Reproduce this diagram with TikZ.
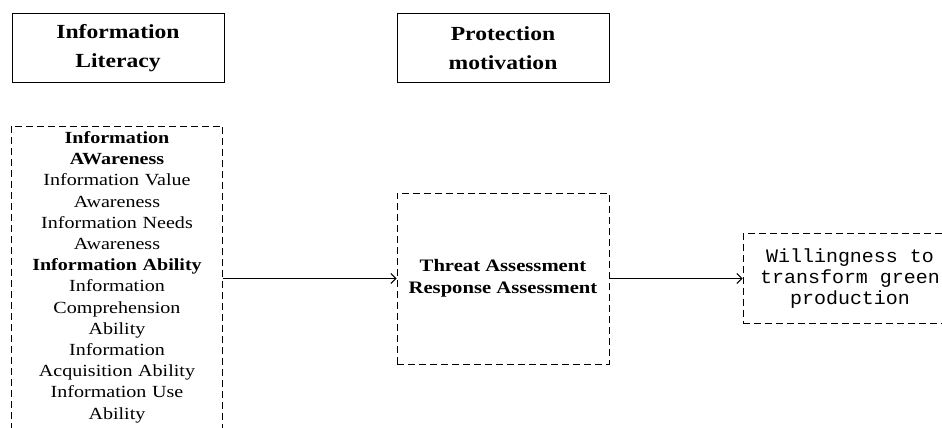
\documentclass[tikz,border=0pt]{standalone}
\usepackage{fontspec}
\setmainfont{Liberation Serif}[FakeStretch=1.18]
\newfontfamily\willfont{Liberation Mono}[FakeStretch=1.05]
\usetikzlibrary{arrows.meta}
\usetikzlibrary{positioning}

\begin{document}
\begin{tikzpicture}[x=1pt,y=-1pt,>={Straight Barb[length=5pt,width=10pt]},line width=1pt,node distance=1cm]
 \tikzstyle{head node}=[rectangle,draw,minimum width=212pt,minimum height=68pt,align=center,font=\fontsize{20}{29}\selectfont\bfseries]
 \tikzstyle{dash box}=[dash pattern=on 7pt off 4pt]
 \tikzset{
 	list node/.style={rectangle,inner xsep=2pt,inner ysep=5pt,text width=206pt,align=center,font=\fontsize{17}{21.2}\selectfont},
 	mid node/.style={rectangle,draw,dash box,minimum width=212pt,minimum height=171pt,align=center,font=\fontsize{17.5}{22}\selectfont\bfseries},
 	will node/.style={rectangle,draw,dash box,minimum width=214pt,minimum height=90pt,align=center,font=\willfont\fontsize{19}{21}\selectfont}
 }
 \useasboundingbox (0,0) rectangle (942,428);
 \clip (0,0) rectangle (942,428);

       \node[head node] (lit) at (118,48) {Information\\Literacy};
       \node[head node] (prot) [right=172pt of lit] {Protection\\motivation};

       \node[list node,anchor=north] (dims) at (117,126) {\textbf{Information}\\\textbf{AWareness}\\Information Value\\Awareness\\Information Needs\\Awareness\\\textbf{Information Ability}\\Information\\Comprehension\\Ability\\Information\\Acquisition Ability\\Information Use\\Ability};
       \draw[dash box] (dims.north west) rectangle ([yshift=-20pt]dims.south east);

       \node[mid node] (threat) [below=110pt of prot] {Threat Assessment\\Response Assessment};
       \node[will node] (will) [right=133pt of threat] {Willingness to\\transform green\\production};

     \path[->]  (dims.east |- threat.west) edge (threat.west);
     \path[->]  (threat.east) edge (will.west |- threat.east);
 \end{tikzpicture}
\end{document}
